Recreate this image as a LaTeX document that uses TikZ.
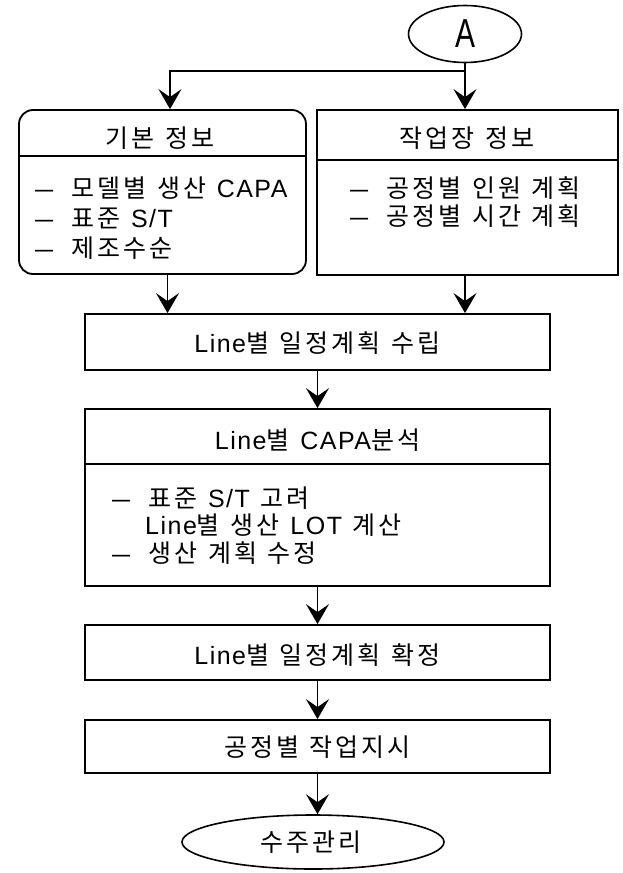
\documentclass[tikz,border=0pt]{standalone}
\usepackage{fontspec}
\setmainfont[LetterSpace=12,WordSpace=1.25]{Noto Sans CJK KR}
\newfontfamily\lat[LetterSpace=6]{Liberation Sans}
\newcommand\dsh{{\lat\scalebox{1.3}[1]{–}}\hspace{18pt}}
\usetikzlibrary{arrows.meta,shapes.geometric}
\begin{document}
\begin{tikzpicture}[x=1pt,y=-1pt,
  txt/.style={inner sep=0pt,font=\fontsize{25}{30}\selectfont},
  frame/.style={draw,line width=1.8pt,inner sep=0pt},
  wide/.style={frame,minimum width=465pt},
  arr/.style={line width=1.4pt,-{Stealth[length=20pt,width=23pt,inset=8pt]}},
  divider/.style={line width=1.6pt}]
\useasboundingbox (0,0) rectangle (622,873);
% start connector
\node[draw,ellipse,line width=1.6pt,minimum width=113pt,minimum height=57pt,inner sep=0pt] (A) at (465,34)
  {\lat\fontsize{40.5}{40}\selectfont\scalebox{0.74}[1]{A}};
% top boxes
\node[frame,rounded corners=14pt,minimum width=287pt,minimum height=164pt] (lbox) at (162.5,192) {};
\node[frame,minimum width=301pt,minimum height=165pt] (rbox) at (467.5,192.5) {};
\draw[divider] (lbox.west |- 0,156) -- (lbox.east |- 0,156);
\draw[divider] (rbox.west |- 0,160) -- (rbox.east |- 0,160);
\node[txt,anchor=base] (lt) at (160,147) {기본 정보};
\node[txt,anchor=base] (rt) at (467,147) {작업장 정보};
\node[txt,anchor=base west] (l1) at (35,197) {\dsh 모델별 생산 {\lat CAPA}};
\node[txt,anchor=base west] (l2) at (35,227) {\dsh 표준 {\lat S/T}};
\node[txt,anchor=base west] (l3) at (35,257) {\dsh 제조수순};
\node[txt,anchor=base west] (r1) at (350,197) {\dsh 공정별 인원 계획};
\node[txt,anchor=base west] (r2) at (350,225) {\dsh 공정별 시간 계획};
% main column
\node[wide,minimum height=56pt] (b1) at (317.5,342) {};
\node[txt,anchor=base] (b1t) at (317.5,352) {{\lat Line}별 일정계획 수립};
\node[wide,minimum height=177pt] (b2) at (317.5,497.5) {};
\draw[divider] (b2.west |- 0,464) -- (b2.east |- 0,464);
\node[txt,anchor=base] (b2t) at (317.5,449) {{\lat Line}별 {\lat CAPA}분석};
\node[txt,anchor=base west] (c1) at (112,507) {\dsh 표준 {\lat S/T} 고려};
\node[txt,anchor=base west] (c2) at (145,534) {{\lat Line}별 생산 {\lat LOT} 계산};
\node[txt,anchor=base west] (c3) at (112,562) {\dsh 생산 계획 수정};
\node[wide,minimum height=55pt] (b3) at (317.5,652.5) {};
\node[txt,anchor=base] (b3t) at (317.5,664) {{\lat Line}별 일정계획 확정};
\node[wide,minimum height=53pt] (b4) at (317.5,746.5) {};
\node[txt,anchor=base] (b4t) at (317.5,756) {공정별 작업지시};
\node[draw,ellipse,line width=1.6pt,minimum width=262pt,minimum height=54pt,inner sep=0pt] (end) at (313,842) {};
\node[txt,anchor=base] (endt) at (311,851) {수주관리};
% connectors
\coordinate (j) at (465,71);
\draw[line width=1.4pt] (A.south) -- (j);
\draw[arr] (j) -- (rbox.north -| j);
\draw[arr] (j) -| ([xshift=7.5pt]lbox.north);
\draw[arr] ([xshift=5pt]lbox.south) -- ([xshift=5pt]lbox.south |- b1.north);
\draw[arr] (rbox.south -| j) -- (j |- b1.north);
\draw[arr] (b1.south) -- (b2.north);
\draw[arr] (b2.south) -- (b3.north);
\draw[arr] (b3.south) -- (b4.north);
\draw[arr] (b4.south) -- (b4.south |- end.north);
\end{tikzpicture}
\end{document}
